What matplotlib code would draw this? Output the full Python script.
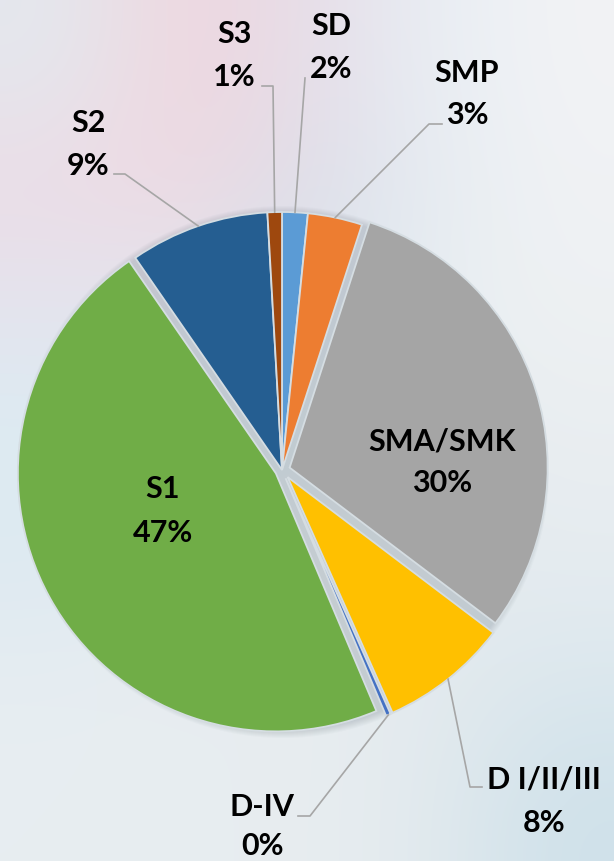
import matplotlib
import matplotlib.pyplot as plt
import numpy as np
from matplotlib.colors import to_rgb
from matplotlib.patches import Circle

matplotlib.use("Agg")

W, H = 614, 861

# data (percent of respondents by education level), clockwise from 12 o'clock
categories = ["SD", "SMP", "SMA/SMK", "D I/II/III", "D-IV", "S1", "S2", "S3"]
shares = [1.6, 3.4, 30.2, 8.0, 0.3, 46.6, 8.7, 0.9]
pct_labels = ["2%", "3%", "30%", "8%", "0%", "47%", "9%", "1%"]

COLORS = ["#5B9BD5", "#ED7D31", "#A5A5A5", "#FFC000",
          "#4472C4", "#70AD47", "#255E91", "#9E480E"]
EXPLODE_PX = [0, 0, 8, 9, 9, 7, 0, 0]

CENTER = (282, 470)   # image pixels (y down)
RADIUS = 258

# label layout: x centre, baseline of name, baseline of percent (image px)
LABEL_POS = {
    "SD": (331, 35, 78),
    "SMP": (467, 82, 124),
    "SMA/SMK": (442, 450, 492),
    "D I/II/III": (544, 788, 832),
    "D-IV": (262, 816, 855),
    "S1": (163, 498, 542),
    "S2": (88, 132, 175),
    "S3": (234, 43, 86),
}
# leader line start points near the label (image px)
LEADER = {
    "SD": [(305, 78)],
    "SMP": [(442, 124), (429, 124)],
    "D I/II/III": [(482, 787), (470, 787)],
    "D-IV": [(298, 816), (310, 816)],
    "S2": [(114, 174), (125, 174)],
    "S3": [(262, 86), (273, 86)],
}

# soft blurred backdrop (rows top -> bottom)
BG = [
    ["#e4e8ee", "#f0d6de", "#e6dde8", "#e8eef4", "#f2f3f5"],
    ["#ecdce6", "#efd9e2", "#dcdde8", "#e6ecf2", "#f0f2f4"],
    ["#e4e4ee", "#e2e6ee", "#d8e4ec", "#e8eef2", "#eef1f3"],
    ["#dcecf3", "#e0e8ee", "#e2eaee", "#e6ecf0", "#eaeef1"],
    ["#dde9f1", "#e4eaee", "#e6ecef", "#e4eaee", "#e6ecf0"],
    ["#e6edf2", "#e8edf0", "#e8edf0", "#e4eaee", "#dce8ee"],
    ["#e8eef1", "#e8edf0", "#e8edf0", "#e2eaee", "#cfe1ea"],
]


def fy(y):
    return H - y


fig = plt.figure(figsize=(W / 100, H / 100), dpi=100)
ax = fig.add_axes([0, 0, 1, 1])

bg = np.array([[to_rgb(c) for c in row] for row in BG])
ax.imshow(bg, extent=(0, W, 0, H), origin="upper", interpolation="bicubic",
          zorder=0, aspect="auto")

cx, cy = CENTER[0], fy(CENTER[1])
for k in range(1, 9):
    ax.add_patch(Circle((cx + 1, cy - 2), RADIUS + k, facecolor="#6f7c88",
                        edgecolor="none", alpha=0.035, zorder=1))

wedges, _ = ax.pie(
    shares,
    colors=COLORS,
    startangle=90,
    counterclock=False,
    radius=RADIUS,
    center=(cx, cy),
    explode=EXPLODE_PX,
    wedgeprops=dict(edgecolor="#d5dde2", linewidth=1.3, zorder=2),
)

font = dict(family="Lato", weight="bold", fontsize=22, color="black", zorder=5)
for cat, pct, w in zip(categories, pct_labels, wedges):
    x, yb_name, yb_pct = LABEL_POS[cat]
    ax.text(x, fy(yb_name), cat, ha="center", va="baseline", **font)
    ax.text(x, fy(yb_pct), pct, ha="center", va="baseline", **font)

    if cat in LEADER:
        mid = np.deg2rad((w.theta1 + w.theta2) / 2)
        ax_pt = (w.center[0] + w.r * np.cos(mid), w.center[1] + w.r * np.sin(mid))
        pts = [(px, fy(py)) for px, py in LEADER[cat]] + [ax_pt]
        xs, ys = zip(*pts)
        ax.plot(xs, ys, color="#a6a6a6", linewidth=1.2, zorder=3)

ax.set_xlim(0, W)
ax.set_ylim(0, H)
ax.set_aspect("auto")
ax.axis("off")

fig.savefig("out.png", dpi=100)
